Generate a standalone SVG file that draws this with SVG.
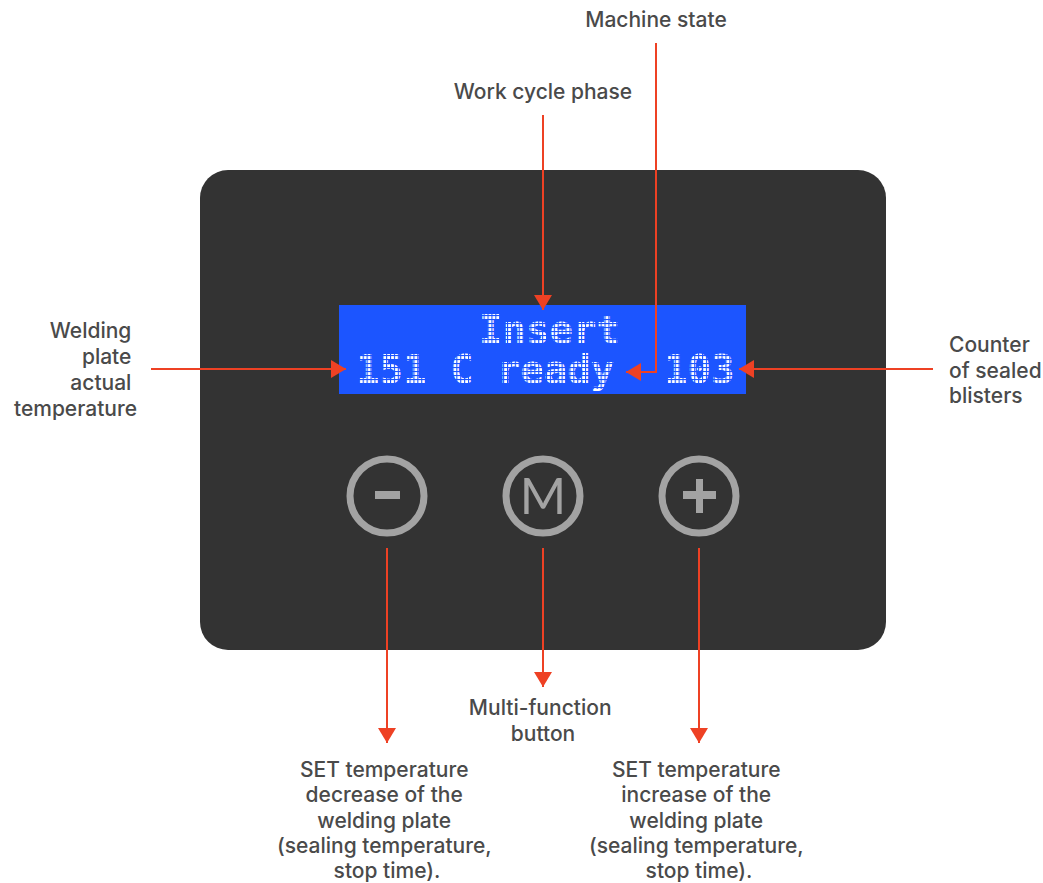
<svg xmlns="http://www.w3.org/2000/svg" width="1043" height="883" viewBox="0 0 1043 883">
  <style>
    .label { font-family: "Inter", "Noto Sans", "Liberation Sans", sans-serif; font-weight: 500; font-size: 21px; fill: #4a4a4a; }
    .lcd { font-family: "DejaVu Sans Mono", "Liberation Mono", monospace; font-size: 39px; font-weight: bold; fill: #ffffff; }
    .wire { fill: none; stroke: #ee4124; stroke-width: 2; }
    .ring { fill: none; stroke: #a3a3a3; stroke-width: 7; }
    .glyph { fill: #a3a3a3; }
  </style>
  <defs>
    <marker id="arrow" markerUnits="userSpaceOnUse" markerWidth="16" markerHeight="18" refX="15" refY="9" orient="auto">
      <path d="M0,0 L15,9 L0,18 z" fill="#ee4124"/>
    </marker>
    <!-- thin gaps between LCD pixels, laid over the characters -->
    <pattern id="pixel-grid" patternUnits="userSpaceOnUse" x="0" y="3" width="3.9" height="4">
      <rect x="0" y="0" width="1.1" height="4" fill="#1c55ff"/>
      <rect x="0" y="0" width="3.9" height="1.1" fill="#1c55ff"/>
    </pattern>
  </defs>

  <rect width="1043" height="883" fill="#ffffff"/>

  <!-- control panel body -->
  <g id="panel">
    <rect x="200" y="170" width="686" height="480" rx="28" ry="28" fill="#333333"/>
  </g>

  <!-- LCD display: two character rows -->
  <g id="lcd">
    <rect x="339" y="305" width="407" height="89" fill="#1c55ff"/>
    <text class="lcd" xml:space="preserve"><tspan x="479" y="343">Insert</tspan><tspan x="356" y="383">151 C ready</tspan><tspan x="664" y="383">103</tspan></text>
    <rect x="345" y="310" width="395" height="79" fill="url(#pixel-grid)"/>
  </g>

  <!-- buttons -->
  <g id="btn-minus">
    <circle class="ring" cx="387" cy="496" r="37"/>
    <rect class="glyph" x="375" y="491" width="25" height="8"/>
  </g>
  <g id="btn-menu">
    <circle class="ring" cx="543" cy="496" r="37"/>
    <text x="543" y="514" text-anchor="middle" font-family="Lato, 'Liberation Sans', sans-serif" font-size="50" fill="#a3a3a3">M</text>
  </g>
  <g id="btn-plus">
    <circle class="ring" cx="699" cy="496" r="37"/>
    <rect class="glyph" x="683" y="491" width="33" height="8"/>
    <rect class="glyph" x="696" y="479" width="7" height="34"/>
  </g>

  <!-- connectors -->
  <g id="connectors">
    <path class="wire" d="M543,115 V310" marker-end="url(#arrow)"/>
    <path class="wire" d="M656,43 V372 H626" marker-end="url(#arrow)"/>
    <path class="wire" d="M151,369 H346" marker-end="url(#arrow)"/>
    <path class="wire" d="M933,369 H739" marker-end="url(#arrow)"/>
    <path class="wire" d="M387,548 V743" marker-end="url(#arrow)"/>
    <path class="wire" d="M543,548 V687" marker-end="url(#arrow)"/>
    <path class="wire" d="M699,548 V743" marker-end="url(#arrow)"/>
  </g>

  <!-- labels -->
  <g id="label-machine-state">
    <text class="label" x="656" y="27" text-anchor="middle">Machine state</text>
  </g>
  <g id="label-work-cycle">
    <text class="label" x="543" y="99" text-anchor="middle">Work cycle phase</text>
  </g>
  <g id="label-plate-temp">
    <text class="label" text-anchor="end">
      <tspan x="137" y="338">Welding</tspan>
      <tspan x="137" y="364">plate</tspan>
      <tspan x="137" y="390">actual</tspan>
      <tspan x="137" y="416">temperature</tspan>
    </text>
  </g>
  <g id="label-counter">
    <text class="label">
      <tspan x="949" y="352">Counter</tspan>
      <tspan x="949" y="378">of sealed</tspan>
      <tspan x="949" y="403">blisters</tspan>
    </text>
  </g>
  <g id="label-menu">
    <text class="label" text-anchor="middle">
      <tspan x="543" y="715">Multi-function</tspan>
      <tspan x="543" y="741">button</tspan>
    </text>
  </g>
  <g id="label-minus">
    <text class="label" text-anchor="middle">
      <tspan x="387" y="777">SET temperature</tspan>
      <tspan x="387" y="802">decrease of the</tspan>
      <tspan x="387" y="828">welding plate</tspan>
      <tspan x="387" y="853">(sealing temperature,</tspan>
      <tspan x="387" y="878">stop time).</tspan>
    </text>
  </g>
  <g id="label-plus">
    <text class="label" text-anchor="middle">
      <tspan x="699" y="777">SET temperature</tspan>
      <tspan x="699" y="802">increase of the</tspan>
      <tspan x="699" y="828">welding plate</tspan>
      <tspan x="699" y="853">(sealing temperature,</tspan>
      <tspan x="699" y="878">stop time).</tspan>
    </text>
  </g>
</svg>
